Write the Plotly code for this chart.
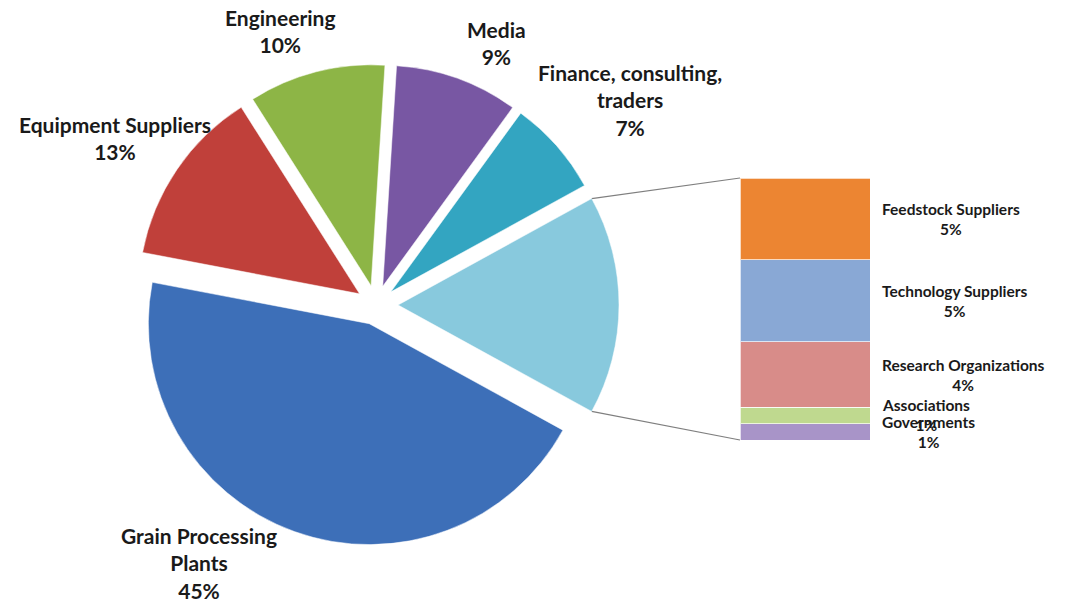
import math
import plotly.graph_objects as go

# ---- data ----
pie_labels = ["Grain Processing<br>Plants", "Equipment Suppliers", "Engineering", "Media",
              "Finance, consulting,<br>traders", "Other"]
pie_values = [45, 13, 10, 9, 7, 16]
pie_colors = ["#3D6FB8", "#C0403A", "#8DB546", "#7857A3", "#33A5C1", "#88C9DD"]

bar_labels = ["Governments", "Associations", "Research Organizations", "Technology Suppliers", "Feedstock Suppliers"]
bar_values = [1, 1, 4, 5, 5]
bar_colors = ["#A894C8", "#BFD98F", "#D88C89", "#89A8D5", "#EC8532"]

# page body has an 8px margin; work in window pixels and convert
OFF = 8
WIN_W, WIN_H = 1066, 604
W, H = WIN_W - OFF, WIN_H - OFF


def px_x(x):
    return (x - OFF) / W


def px_y(y):
    return 1 - (y - OFF) / H


# ---- layout geometry (window pixels) ----
pie_box = (133, 62, 486)  # left, top, size
pulls = [0.09, 0.09, 0.09, 0.09, 0.09, 0.1]
bar_px = (740, 870, 178, 440)  # left, right, top, bottom

other_idx = len(pie_values) - 1
total = sum(pie_values)
other_deg = pie_values[other_idx] / total * 360
rotation = 90 + other_deg / 2  # Other slice centred at 3 o'clock; first slice starts after it

fig = go.Figure()

fig.add_trace(go.Pie(
    labels=[l.replace("<br>", " ") for l in pie_labels],
    values=pie_values,
    sort=False,
    direction="clockwise",
    rotation=rotation,
    pull=pulls,
    textinfo="none",
    hoverinfo="label+percent",
    marker=dict(colors=pie_colors, line=dict(color="rgba(255,255,255,0.5)", width=1)),
    domain=dict(x=[px_x(pie_box[0]), px_x(pie_box[0] + pie_box[2])],
                y=[px_y(pie_box[1] + pie_box[2]), px_y(pie_box[1])]),
    showlegend=False,
))

for lab, val, col in zip(bar_labels, bar_values, bar_colors):
    fig.add_trace(go.Bar(
        x=[0], y=[val], name=lab, width=1,
        marker=dict(color=col, line=dict(color="rgba(255,255,255,0.7)", width=1)),
        showlegend=False, xaxis="x", yaxis="y",
    ))

bx0, bx1, by_top, by_bot = bar_px
fig.update_layout(
    width=W, height=H,
    margin=dict(l=0, r=0, t=0, b=0),
    paper_bgcolor="white", plot_bgcolor="rgba(0,0,0,0)",
    barmode="stack",
    xaxis=dict(domain=[px_x(bx0), px_x(bx1)], range=[-0.5, 0.5], visible=False, fixedrange=True),
    yaxis=dict(domain=[px_y(by_bot), px_y(by_top)], range=[0, sum(bar_values)],
               visible=False, fixedrange=True),
    font=dict(family="Lato, 'Open Sans', sans-serif", color="#1a1a1a"),
)

# connector lines from the Other slice to the bar
r = pie_box[2] / (2 + 2 * max(pulls))
cx = pie_box[0] + pie_box[2] / 2
cy = pie_box[1] + pie_box[2] / 2
start_other = rotation + sum(pie_values[:other_idx]) / total * 360
a0 = math.radians(start_other % 360)
a1 = math.radians((start_other + other_deg) % 360)
amid = (a0 + a1) / 2 if a1 > a0 else (a0 + a1 + 2 * math.pi) / 2
ox = cx + pulls[other_idx] * r * math.sin(amid)
oy = cy - pulls[other_idx] * r * math.cos(amid)
p_top = (ox + r * math.sin(a0), oy - r * math.cos(a0))
p_bot = (ox + r * math.sin(a1), oy - r * math.cos(a1))
for (px, py), (qx, qy) in [(p_top, (bx0, by_top)), (p_bot, (bx0, by_bot))]:
    fig.add_shape(type="line", xref="paper", yref="paper",
                  x0=px_x(px), y0=px_y(py), x1=px_x(qx), y1=px_y(qy),
                  line=dict(color="#7f7f7f", width=1.2), layer="below")

# pie labels
pie_label_pos = {0: (199, 563), 1: (115, 138), 2: (280, 31), 3: (496, 43), 4: (630, 100)}
for i, (px, py) in pie_label_pos.items():
    fig.add_annotation(
        x=px_x(px), y=px_y(py), xref="paper", yref="paper",
        text=f"<b>{pie_labels[i]}<br>{pie_values[i]}%</b>",
        showarrow=False, xanchor="center", yanchor="middle", align="center",
        font=dict(size=21, color="#1a1a1a"),
    )

# bar labels
cum = 0
for lab, val in zip(bar_labels, bar_values):
    mid = cum + val / 2
    cum += val
    fig.add_annotation(
        x=px_x(880), y=mid, xref="paper", yref="y",
        text=f"<b>{lab}<br>{val}%</b>",
        showarrow=False, xanchor="left", yanchor="middle", align="center",
        font=dict(size=15.5, color="#1a1a1a"),
    )

fig.write_html("out.html")
